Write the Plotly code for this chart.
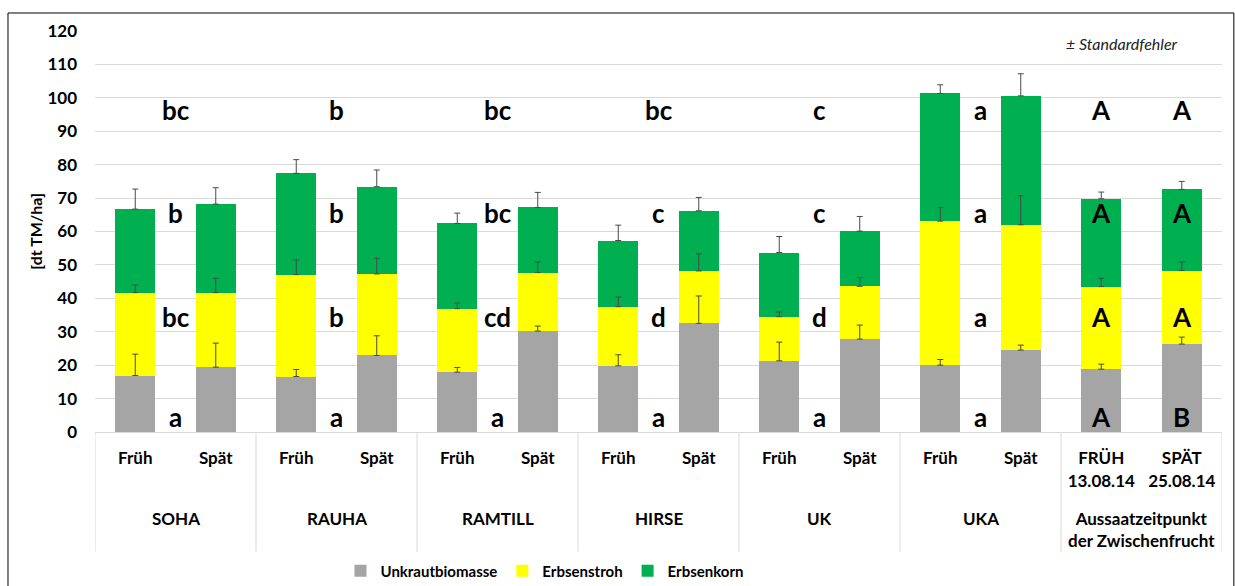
import plotly.graph_objects as go

# ---- data ----
groups = ["SOHA", "RAUHA", "RAMTILL", "HIRSE", "UK", "UKA", "Aussaatzeitpunkt<br>der Zwischenfrucht"]
sub_labels = ["Früh", "Spät"] * 6 + ["FRÜH<br>13.08.14", "SPÄT<br>25.08.14"]

unkraut = [16.9, 19.4, 16.6, 22.9, 17.9, 30.2, 19.8, 32.5, 21.3, 27.8, 20.0, 24.5, 18.8, 26.3]
stroh = [24.8, 22.3, 30.5, 24.4, 19.0, 17.5, 17.7, 15.7, 13.2, 15.8, 43.1, 37.5, 24.7, 22.0]
korn = [25.0, 26.5, 30.3, 26.1, 25.5, 19.5, 19.8, 18.0, 19.2, 16.5, 38.2, 38.6, 26.3, 24.3]

err_unkraut = [6.4, 7.2, 2.1, 5.9, 1.4, 1.5, 3.3, 8.2, 5.6, 4.2, 1.7, 1.5, 1.5, 2.1]
err_stroh = [2.3, 4.3, 4.4, 4.7, 1.7, 3.2, 2.9, 5.1, 1.4, 2.6, 4.1, 8.7, 2.5, 2.6]
err_korn = [6.0, 4.9, 4.1, 5.0, 3.1, 4.5, 4.6, 4.0, 4.8, 4.4, 2.6, 6.6, 2.0, 2.4]

# significance letters (rows: total, korn, stroh, unkraut)
letters_total = ["bc", "b", "bc", "bc", "c", "a", "A", "A"]
letters_korn = ["b", "b", "bc", "c", "c", "a", "A", "A"]
letters_stroh = ["bc", "b", "cd", "d", "d", "a", "A", "A"]
letters_unkraut = ["a", "a", "a", "a", "a", "a", "A", "B"]
letter_rows_y = [96.5, 65.6, 34.5, 4.6]

series = [
    ("Unkrautbiomasse", unkraut, err_unkraut, "#a5a5a5"),
    ("Erbsenstroh", stroh, err_stroh, "#ffff00"),
    ("Erbsenkorn", korn, err_korn, "#00b050"),
]

FONT = "Lato"
x = list(range(len(unkraut)))

fig = go.Figure()
for name, vals, errs, col in series:
    fig.add_trace(go.Bar(x=x, y=vals, name=name, marker=dict(color=col, line=dict(width=0))))

# error bars drawn on top of all segments, at each segment's stacked top
cum = [0.0] * len(x)
for name, vals, errs, col in series:
    cum = [c + v for c, v in zip(cum, vals)]
    fig.add_trace(go.Scatter(
        x=x, y=list(cum), mode="markers", showlegend=False, hoverinfo="skip",
        marker=dict(size=1, color="rgba(0,0,0,0)"),
        error_y=dict(type="data", array=errs, arrayminus=[0] * len(errs), symmetric=False,
                     color="#4a4a4a", thickness=1, width=3),
    ))

# letter annotations
ann = []
letter_x = [2 * g + 0.5 for g in range(6)] + [12, 13]
for row, ly in zip([letters_total, letters_korn, letters_stroh, letters_unkraut], letter_rows_y):
    for lx, t in zip(letter_x, row):
        ann.append(dict(x=lx, y=ly, xref="x", yref="y", text=t, showarrow=False,
                        font=dict(family=FONT, size=26, color="black", weight="bold"),
                        yanchor="middle", xanchor="center"))

# group labels
for g, name in enumerate(groups):
    ann.append(dict(x=2 * g + 0.5, y=-0.1845, xref="x", yref="paper", text=name, showarrow=False,
                    font=dict(family=FONT, size=17, color="black", weight="bold"),
                    yanchor="top", xanchor="center"))

# y axis title
ann.append(dict(x=-0.053, y=0.5, xref="paper", yref="paper", text="[dt TM/ha]", showarrow=False,
                textangle=-90, font=dict(family=FONT, size=16, color="black", weight="bold"),
                xanchor="center", yanchor="middle"))
# note
ann.append(dict(x=0.911, y=0.97, xref="paper", yref="paper", text="<i>± Standardfehler</i>", showarrow=False,
                font=dict(family=FONT, size=16, color="#222"), xanchor="center", yanchor="middle"))

shapes = []
for g in range(len(groups) + 1):
    shapes.append(dict(type="line", xref="x", yref="paper", x0=2 * g - 0.5, x1=2 * g - 0.5,
                       y0=0, y1=-0.299, line=dict(color="#d9d9d9", width=1)))
shapes.append(dict(type="rect", xref="paper", yref="paper", x0=-0.0772, x1=1.0105, y0=-0.5, y1=1.0449,
                   line=dict(color="black", width=1), layer="below"))

fig.update_layout(
    width=1235, height=586,
    margin=dict(l=95, r=13, t=31, b=154),
    barmode="stack", bargap=0.5,
    plot_bgcolor="white", paper_bgcolor="white",
    font=dict(family=FONT, color="black"),
    annotations=ann, shapes=shapes,
    legend=dict(orientation="h", x=545 / 1235, xref="container", xanchor="center",
                y=1 - 571 / 586, yref="container", yanchor="middle",
                font=dict(family=FONT, size=15, weight="bold"), traceorder="normal"),
    showlegend=True,
)
fig.update_xaxes(range=[-0.5, 13.5], tickvals=x, ticktext=sub_labels, showgrid=False, zeroline=False,
                 showline=True, linecolor="#d9d9d9", linewidth=1, ticks="",
                 tickfont=dict(family=FONT, size=17, weight="bold"), ticklabelstandoff=11)
fig.update_yaxes(range=[0, 120], dtick=10, showgrid=True, gridcolor="#d9d9d9", gridwidth=1,
                 zeroline=False, ticks="", tickfont=dict(family=FONT, size=17, weight="bold"),
                 ticklabelstandoff=17)

fig.write_html("out.html", config={"displayModeBar": False},
               post_script="document.body.style.margin='0';document.body.style.overflow='hidden';")
